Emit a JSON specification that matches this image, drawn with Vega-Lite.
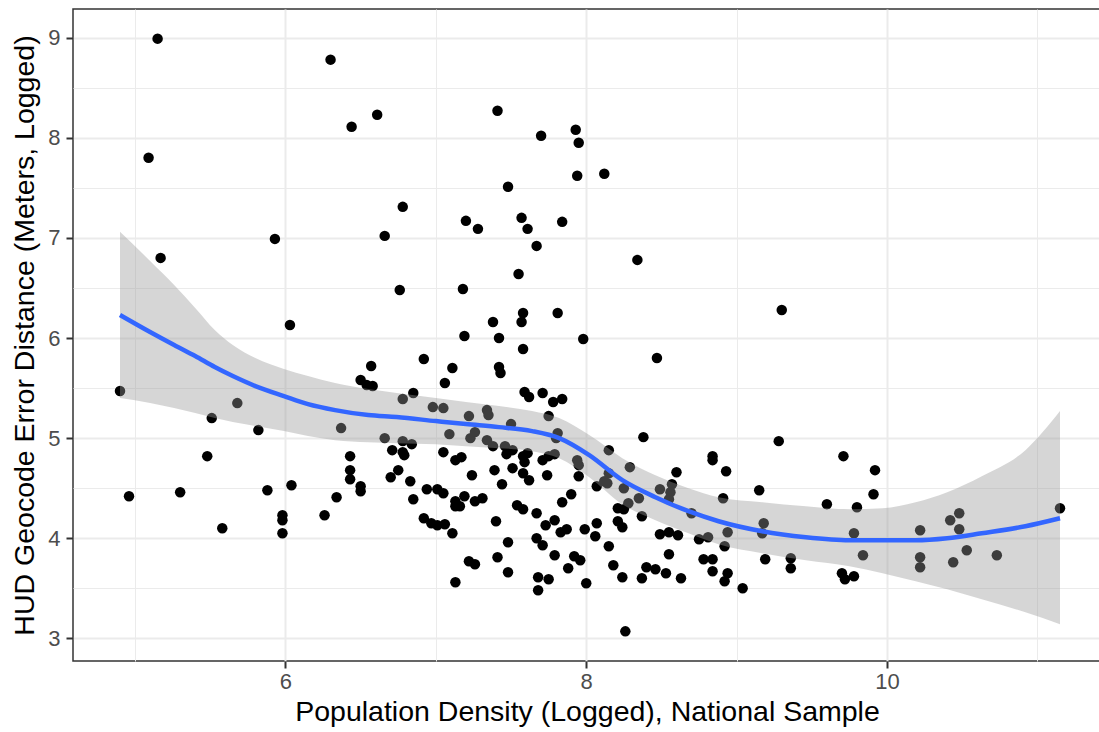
{
  "$schema": "https://vega.github.io/schema/vega-lite/v6.json",
  "width": 1028,
  "height": 652,
  "autosize": {"type": "none"},
  "padding": {"left": 73, "top": 9, "right": 0, "bottom": 71},
  "background": "white",
  "config": {
    "font": "Liberation Sans",
    "view": {"stroke": "#333333", "strokeWidth": 1.5},
    "axis": {
      "domain": false,
      "gridColor": "#EBEBEB",
      "tickColor": "#333333",
      "tickSize": 7,
      "tickWidth": 2,
      "labelColor": "#4D4D4D",
      "labelFontSize": 22,
      "labelFont": "Liberation Sans",
      "titleFont": "Liberation Sans",
      "titleFontSize": 28.5,
      "titleFontWeight": "normal",
      "titleColor": "#000000",
      "labelOverlap": false,
      "labelBound": false,
      "labelFlush": false
    }
  },
  "datasets": {
    "pts": [
      {"x":5.15,"y":8.99},{"x":5.09,"y":7.80},{"x":5.17,"y":6.80},{"x":4.90,"y":5.47},{"x":4.96,"y":4.42},
      {"x":5.30,"y":4.46},{"x":5.51,"y":5.20},{"x":5.48,"y":4.82},{"x":5.68,"y":5.35},{"x":5.58,"y":4.10},
      {"x":5.82,"y":5.08},{"x":5.88,"y":4.48},{"x":5.93,"y":6.99},{"x":5.98,"y":4.23},{"x":5.98,"y":4.18},
      {"x":5.98,"y":4.05},{"x":6.03,"y":6.13},{"x":6.04,"y":4.53},{"x":6.26,"y":4.23},{"x":6.30,"y":8.78},
      {"x":6.34,"y":4.41},{"x":6.37,"y":5.10},{"x":6.44,"y":8.11},{"x":6.61,"y":8.23},{"x":6.57,"y":5.72},
      {"x":6.92,"y":5.79},{"x":7.11,"y":5.70},{"x":6.50,"y":5.58},{"x":6.54,"y":5.53},{"x":6.58,"y":5.52},
      {"x":7.06,"y":5.55},{"x":6.85,"y":5.45},{"x":6.78,"y":5.39},{"x":6.98,"y":5.31},{"x":7.05,"y":5.30},
      {"x":6.66,"y":5.00},{"x":7.09,"y":5.04},{"x":6.78,"y":4.97},{"x":6.84,"y":4.94},{"x":6.71,"y":4.88},
      {"x":6.78,"y":4.86},{"x":6.79,"y":4.83},{"x":7.05,"y":4.86},{"x":7.13,"y":4.78},{"x":6.43,"y":4.82},
      {"x":6.43,"y":4.68},{"x":6.43,"y":4.59},{"x":6.75,"y":4.68},{"x":6.70,"y":4.61},{"x":6.83,"y":4.57},
      {"x":6.50,"y":4.52},{"x":6.50,"y":4.47},{"x":6.85,"y":4.39},{"x":6.94,"y":4.49},{"x":7.01,"y":4.49},
      {"x":7.05,"y":4.45},{"x":7.13,"y":4.37},{"x":7.13,"y":4.32},{"x":6.92,"y":4.20},{"x":6.97,"y":4.15},
      {"x":7.01,"y":4.13},{"x":7.06,"y":4.14},{"x":7.11,"y":4.05},{"x":7.13,"y":3.56},{"x":7.41,"y":8.27},
      {"x":7.70,"y":8.02},{"x":7.93,"y":8.08},{"x":7.95,"y":7.95},{"x":7.94,"y":7.62},{"x":7.48,"y":7.51},
      {"x":6.78,"y":7.31},{"x":7.20,"y":7.17},{"x":7.28,"y":7.09},{"x":7.57,"y":7.20},{"x":7.61,"y":7.09},
      {"x":7.84,"y":7.16},{"x":6.66,"y":7.02},{"x":7.67,"y":6.92},{"x":7.55,"y":6.64},{"x":6.76,"y":6.48},
      {"x":7.18,"y":6.49},{"x":7.81,"y":6.25},{"x":7.58,"y":6.25},{"x":7.57,"y":6.16},{"x":7.38,"y":6.16},
      {"x":7.19,"y":6.02},{"x":7.42,"y":6.00},{"x":7.98,"y":5.99},{"x":8.12,"y":7.64},{"x":8.34,"y":6.78},
      {"x":9.30,"y":6.28},{"x":7.58,"y":5.89},{"x":7.42,"y":5.71},{"x":7.43,"y":5.65},{"x":7.59,"y":5.46},
      {"x":7.62,"y":5.41},{"x":7.71,"y":5.45},{"x":7.78,"y":5.36},{"x":7.84,"y":5.39},{"x":7.34,"y":5.28},
      {"x":7.35,"y":5.23},{"x":7.22,"y":5.22},{"x":7.75,"y":5.22},{"x":7.50,"y":5.14},{"x":7.26,"y":5.06},
      {"x":7.23,"y":5.00},{"x":7.34,"y":4.98},{"x":7.38,"y":4.92},{"x":7.81,"y":5.05},{"x":7.80,"y":5.00},
      {"x":7.46,"y":4.92},{"x":7.51,"y":4.88},{"x":7.47,"y":4.84},{"x":7.58,"y":4.82},{"x":7.61,"y":4.85},
      {"x":7.59,"y":4.76},{"x":7.71,"y":4.78},{"x":7.75,"y":4.82},{"x":7.79,"y":4.84},{"x":7.17,"y":4.81},
      {"x":7.94,"y":4.78},{"x":7.95,"y":4.73},{"x":7.95,"y":4.62},{"x":7.24,"y":4.63},{"x":7.39,"y":4.68},
      {"x":7.51,"y":4.70},{"x":7.58,"y":4.65},{"x":7.62,"y":4.58},{"x":7.74,"y":4.63},{"x":7.44,"y":4.54},
      {"x":7.19,"y":4.42},{"x":7.16,"y":4.32},{"x":7.26,"y":4.37},{"x":7.31,"y":4.40},{"x":7.90,"y":4.44},
      {"x":7.84,"y":4.36},{"x":7.54,"y":4.33},{"x":7.58,"y":4.29},{"x":7.67,"y":4.25},{"x":7.40,"y":4.17},
      {"x":7.79,"y":4.18},{"x":7.73,"y":4.13},{"x":7.83,"y":4.06},{"x":7.87,"y":4.09},{"x":7.99,"y":4.09},
      {"x":7.67,"y":4.00},{"x":7.71,"y":3.93},{"x":7.48,"y":3.96},{"x":7.79,"y":3.83},{"x":7.22,"y":3.77},
      {"x":7.26,"y":3.74},{"x":7.41,"y":3.81},{"x":7.92,"y":3.82},{"x":7.96,"y":3.78},{"x":7.88,"y":3.70},
      {"x":7.48,"y":3.66},{"x":7.68,"y":3.61},{"x":7.75,"y":3.59},{"x":7.68,"y":3.48},{"x":8.00,"y":3.55},
      {"x":8.47,"y":5.80},{"x":8.38,"y":5.01},{"x":8.15,"y":4.88},{"x":8.84,"y":4.82},{"x":8.84,"y":4.78},
      {"x":8.29,"y":4.71},{"x":8.60,"y":4.66},{"x":8.15,"y":4.65},{"x":8.12,"y":4.57},{"x":8.14,"y":4.55},
      {"x":8.07,"y":4.52},{"x":8.25,"y":4.50},{"x":8.49,"y":4.49},{"x":8.57,"y":4.54},{"x":8.56,"y":4.46},
      {"x":8.55,"y":4.39},{"x":8.35,"y":4.40},{"x":8.28,"y":4.35},{"x":8.25,"y":4.29},{"x":8.21,"y":4.30},
      {"x":8.37,"y":4.22},{"x":8.70,"y":4.25},{"x":8.21,"y":4.17},{"x":8.24,"y":4.11},{"x":8.07,"y":4.15},
      {"x":8.06,"y":4.02},{"x":8.49,"y":4.04},{"x":8.55,"y":4.06},{"x":8.61,"y":4.03},{"x":8.75,"y":3.99},
      {"x":8.81,"y":4.01},{"x":8.15,"y":3.92},{"x":8.55,"y":3.84},{"x":8.18,"y":3.73},{"x":8.40,"y":3.71},
      {"x":8.46,"y":3.69},{"x":8.53,"y":3.65},{"x":8.37,"y":3.60},{"x":8.24,"y":3.61},{"x":8.63,"y":3.60},
      {"x":8.78,"y":3.79},{"x":8.84,"y":3.79},{"x":8.84,"y":3.67},{"x":8.26,"y":3.07},{"x":9.28,"y":4.97},
      {"x":9.71,"y":4.82},{"x":8.93,"y":4.67},{"x":9.15,"y":4.48},{"x":8.91,"y":4.40},{"x":9.60,"y":4.34},
      {"x":9.18,"y":4.15},{"x":9.17,"y":4.05},{"x":8.94,"y":4.06},{"x":8.92,"y":3.92},{"x":9.19,"y":3.79},
      {"x":9.36,"y":3.80},{"x":9.36,"y":3.70},{"x":8.94,"y":3.65},{"x":8.92,"y":3.57},{"x":9.04,"y":3.50},
      {"x":9.70,"y":3.65},{"x":9.72,"y":3.59},{"x":9.92,"y":4.68},{"x":9.91,"y":4.44},{"x":9.80,"y":4.31},
      {"x":9.78,"y":4.05},{"x":9.84,"y":3.83},{"x":9.78,"y":3.62},{"x":10.22,"y":4.08},{"x":10.22,"y":3.81},
      {"x":10.22,"y":3.71},{"x":10.42,"y":4.18},{"x":10.48,"y":4.25},{"x":10.48,"y":4.09},{"x":10.53,"y":3.88},
      {"x":10.44,"y":3.76},{"x":10.73,"y":3.83},{"x":11.15,"y":4.30}
    ],
    "sm": [
      {"x":4.90,"fit":6.23,"lo":5.40,"hi":7.06},
      {"x":5.10,"fit":6.06,"lo":5.35,"hi":6.77},
      {"x":5.26,"fit":5.93,"lo":5.30,"hi":6.53},
      {"x":5.40,"fit":5.82,"lo":5.25,"hi":6.30},
      {"x":5.53,"fit":5.71,"lo":5.20,"hi":6.08},
      {"x":5.65,"fit":5.62,"lo":5.16,"hi":5.93},
      {"x":5.80,"fit":5.52,"lo":5.12,"hi":5.80},
      {"x":5.99,"fit":5.42,"lo":5.07,"hi":5.69},
      {"x":6.15,"fit":5.34,"lo":5.02,"hi":5.62},
      {"x":6.33,"fit":5.28,"lo":4.98,"hi":5.55},
      {"x":6.55,"fit":5.23,"lo":4.96,"hi":5.49},
      {"x":6.74,"fit":5.21,"lo":4.95,"hi":5.45},
      {"x":7.00,"fit":5.17,"lo":4.94,"hi":5.40},
      {"x":7.20,"fit":5.14,"lo":4.92,"hi":5.36},
      {"x":7.42,"fit":5.11,"lo":4.90,"hi":5.32},
      {"x":7.64,"fit":5.07,"lo":4.87,"hi":5.27},
      {"x":7.82,"fit":5.00,"lo":4.80,"hi":5.20},
      {"x":8.02,"fit":4.83,"lo":4.61,"hi":5.03},
      {"x":8.24,"fit":4.58,"lo":4.34,"hi":4.80},
      {"x":8.46,"fit":4.41,"lo":4.18,"hi":4.63},
      {"x":8.68,"fit":4.27,"lo":4.05,"hi":4.50},
      {"x":8.88,"fit":4.17,"lo":3.94,"hi":4.41},
      {"x":9.17,"fit":4.07,"lo":3.85,"hi":4.36},
      {"x":9.46,"fit":4.01,"lo":3.78,"hi":4.32},
      {"x":9.75,"fit":3.98,"lo":3.72,"hi":4.29},
      {"x":9.97,"fit":3.98,"lo":3.65,"hi":4.30},
      {"x":10.19,"fit":3.98,"lo":3.57,"hi":4.36},
      {"x":10.40,"fit":4.00,"lo":3.49,"hi":4.46},
      {"x":10.63,"fit":4.05,"lo":3.39,"hi":4.62},
      {"x":10.92,"fit":4.12,"lo":3.26,"hi":4.88},
      {"x":11.15,"fit":4.20,"lo":3.14,"hi":5.27}
    ]
  },
  "layer": [
    {
      "data": {"name": "pts"},
      "mark": {"type": "circle", "size": 110, "color": "#000000", "opacity": 1},
      "encoding": {
        "x": {
          "field": "x", "type": "quantitative",
          "scale": {"domain": [4.5875, 11.4226], "nice": false, "zero": false},
          "axis": {
            "title": "Population Density (Logged), National Sample",
            "values": [5, 6, 7, 8, 9, 10, 11],
            "labelExpr": "datum.value % 2 === 0 ? format(datum.value, 'd') : ''",
            "tickOpacity": {"condition": {"test": "datum.value % 2 === 0", "value": 1}, "value": 0},
            "gridWidth": {"condition": {"test": "datum.value % 2 === 0", "value": 2}, "value": 1},
            "labelPadding": 3,
            "titlePadding": 5
          }
        },
        "y": {
          "field": "y", "type": "quantitative",
          "scale": {"domain": [2.774, 9.286], "nice": false, "zero": false},
          "axis": {
            "title": "HUD Geocode Error Distance (Meters, Logged)",
            "values": [3, 3.5, 4, 4.5, 5, 5.5, 6, 6.5, 7, 7.5, 8, 8.5, 9],
            "labelExpr": "datum.value % 1 === 0 ? format(datum.value, 'd') : ''",
            "tickOpacity": {"condition": {"test": "datum.value % 1 === 0", "value": 1}, "value": 0},
            "gridWidth": {"condition": {"test": "datum.value % 1 === 0", "value": 2}, "value": 1},
            "labelPadding": 6,
            "titlePadding": 8
          }
        }
      }
    },
    {
      "data": {"name": "sm"},
      "mark": {"type": "area", "color": "#999999", "opacity": 0.4, "interpolate": "monotone"},
      "encoding": {
        "x": {"field": "x", "type": "quantitative", "title": "Population Density (Logged), National Sample"},
        "y": {"field": "lo", "type": "quantitative", "title": "HUD Geocode Error Distance (Meters, Logged)"},
        "y2": {"field": "hi"}
      }
    },
    {
      "data": {"name": "sm"},
      "mark": {"type": "line", "color": "#3366FF", "strokeWidth": 4.5, "interpolate": "monotone"},
      "encoding": {
        "x": {"field": "x", "type": "quantitative", "title": "Population Density (Logged), National Sample"},
        "y": {"field": "fit", "type": "quantitative", "title": "HUD Geocode Error Distance (Meters, Logged)"}
      }
    }
  ]
}
